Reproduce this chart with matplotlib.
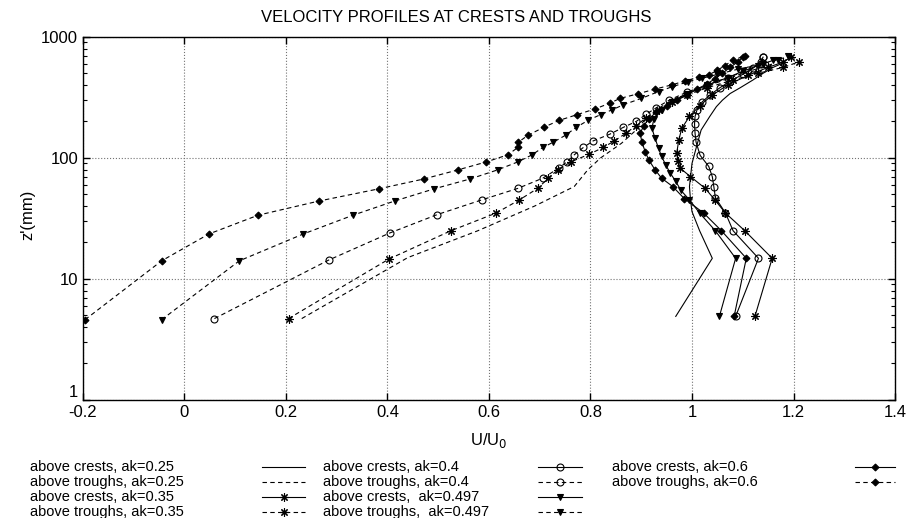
import numpy as np
import matplotlib.pyplot as plt

plt.rcParams['font.family'] = ['Liberation Sans', 'DejaVu Sans']

# velocity profiles, z' (mm) against U/U0
# above crests (solid lines)
z_c25 = [4.9, 14.8, 25, 36, 45, 58, 90, 120, 170, 220, 265, 300, 340, 380, 440, 500, 560, 610]
u_c25 = [0.968, 1.04, 1.015, 1.0, 0.997, 0.995, 1.0, 1.008, 1.018, 1.035, 1.048, 1.06, 1.075,
         1.095, 1.12, 1.14, 1.16, 1.18]

z_c35 = [4.9, 14.8, 25, 35, 45, 56, 70, 82, 95, 110, 141, 176, 220, 270, 330, 400, 480, 560, 620, 680]
u_c35 = [1.124, 1.158, 1.104, 1.066, 1.045, 1.026, 0.997, 0.977, 0.972, 0.97, 0.974, 0.98, 0.995,
         1.015, 1.04, 1.07, 1.11, 1.15, 1.18, 1.195]

z_c40 = [4.9, 14.8, 25, 35, 47, 58, 70, 85, 105, 135, 160, 190, 220, 250, 290, 330, 380, 430, 490,
         550, 620, 680]
u_c40 = [1.086, 1.131, 1.081, 1.066, 1.046, 1.043, 1.04, 1.033, 1.016, 1.008, 1.006, 1.005, 1.006,
         1.01, 1.02, 1.035, 1.055, 1.075, 1.10, 1.12, 1.135, 1.14]

z_c497 = [4.9, 14.8, 25, 35, 45, 54, 64, 75, 88, 103, 120, 146, 176, 210, 250, 290, 340, 400, 460,
          520, 580, 640]
u_c497 = [1.054, 1.086, 1.046, 1.015, 0.995, 0.978, 0.968, 0.957, 0.948, 0.94, 0.934, 0.927, 0.921,
          0.925, 0.94, 0.96, 0.99, 1.03, 1.07, 1.10, 1.13, 1.16]

z_c60 = [4.9, 14.8, 25, 35, 46, 58, 68, 80, 96, 112, 136, 160, 185, 210, 240, 270, 300, 330, 370,
         410, 450, 500, 560, 620, 680]
u_c60 = [1.083, 1.107, 1.058, 1.023, 0.985, 0.962, 0.94, 0.927, 0.915, 0.908, 0.901, 0.898, 0.905,
         0.915, 0.93, 0.95, 0.97, 0.99, 1.01, 1.03, 1.045, 1.06, 1.075, 1.09, 1.10]

# above troughs (dashed lines)
z_t25 = [4.7, 15, 25, 40, 58, 80, 100, 132, 170, 206, 250, 300, 350, 420, 500, 600]
u_t25 = [0.231, 0.44, 0.578, 0.69, 0.768, 0.795, 0.82, 0.861, 0.89, 0.907, 0.93, 0.96, 1.0, 1.05,
         1.10, 1.16]

z_t35 = [4.7, 14.6, 25, 35, 45, 56, 68, 80, 93, 107, 122, 138, 160, 185, 215, 250, 290, 330, 380,
         440, 500, 560, 620]
u_t35 = [0.205, 0.403, 0.525, 0.614, 0.66, 0.696, 0.717, 0.736, 0.762, 0.797, 0.825, 0.847, 0.87,
         0.89, 0.91, 0.935, 0.96, 0.99, 1.03, 1.08, 1.13, 1.18, 1.21]

z_t40 = [4.7, 14.3, 24, 34, 45, 56, 68, 82, 93, 106, 122, 138, 157, 179, 200, 230, 260, 300, 350,
         400, 460, 530, 600, 680]
u_t40 = [0.059, 0.284, 0.405, 0.498, 0.586, 0.657, 0.706, 0.737, 0.754, 0.768, 0.786, 0.805, 0.838,
         0.865, 0.89, 0.91, 0.93, 0.955, 0.99, 1.03, 1.07, 1.11, 1.135, 1.14]

z_t497 = [4.6, 14.1, 23.5, 33.6, 44, 55.5, 67, 79.6, 92.7, 106, 122, 135, 154, 179, 204, 228, 250,
          275, 310, 353, 386, 427, 455, 490, 540, 600, 650, 690]
u_t497 = [-0.045, 0.108, 0.234, 0.332, 0.414, 0.492, 0.563, 0.617, 0.657, 0.685, 0.706, 0.727,
          0.751, 0.772, 0.795, 0.82, 0.843, 0.865, 0.90, 0.934, 0.96, 0.993, 1.02, 1.05, 1.09,
          1.14, 1.17, 1.19]

z_t60 = [4.6, 14.1, 23.5, 33.6, 44, 55.5, 67, 79.6, 92.7, 106, 122, 135, 154, 179, 204, 228, 254,
         283, 310, 338, 370, 401, 433, 464, 485, 530, 580, 640, 700]
u_t60 = [-0.196, -0.045, 0.048, 0.145, 0.265, 0.383, 0.472, 0.539, 0.595, 0.637, 0.657, 0.658,
         0.677, 0.708, 0.738, 0.774, 0.809, 0.838, 0.858, 0.893, 0.927, 0.96, 0.987, 1.013, 1.033,
         1.05, 1.065, 1.08, 1.105]

labels = ['above crests, ak=0.25', 'above troughs, ak=0.25',
          'above crests, ak=0.35', 'above troughs, ak=0.35',
          'above crests, ak=0.4', 'above troughs, ak=0.4',
          'above crests,  ak=0.497', 'above troughs,  ak=0.497',
          'above crests, ak=0.6', 'above troughs, ak=0.6']

star = (8, 2, 0)
dash = (0, (4, 3))
series = [
    (u_c25, z_c25, '-', None, 'k', 0),
    (u_t25, z_t25, dash, None, 'k', 0),
    (u_c35, z_c35, '-', star, 'k', 6),
    (u_t35, z_t35, dash, star, 'k', 6),
    (u_c40, z_c40, '-', 'o', 'none', 5),
    (u_t40, z_t40, dash, 'o', 'none', 5),
    (u_c497, z_c497, '-', 'v', 'k', 5),
    (u_t497, z_t497, dash, 'v', 'k', 5),
    (u_c60, z_c60, '-', 'D', 'k', 3.5),
    (u_t60, z_t60, dash, 'D', 'k', 3.5),
]

fig = plt.figure(figsize=(9.09, 5.18), dpi=100)
ax = fig.add_axes([0.0913, 0.228, 0.8933, 0.7008])

for u, z, ls, mk, mfc, ms in series:
    ax.plot(u, z, color='k', linestyle=ls, linewidth=0.8, marker=mk, markersize=ms,
            markerfacecolor=mfc, markeredgecolor='k', markeredgewidth=0.8)

ax.set_yscale('log')
ax.set_xlim(-0.2, 1.4)
ax.set_ylim(1, 1000)
ax.set_xticks(np.arange(-0.2, 1.41, 0.2))
ax.set_xticklabels(['-0.2', '0', '0.2', '0.4', '0.6', '0.8', '1', '1.2', '1.4'])
ax.set_yticks([1, 10, 100, 1000])
ax.set_yticklabels(['1', '10', '100', '1000'])
ax.get_yticklabels()[0].set_va('bottom')
ax.tick_params(which='both', direction='in', top=True, right=True, labelsize=12)
ax.tick_params(which='major', length=5, width=1)
ax.tick_params(which='minor', length=3, width=0.8)
ax.tick_params(axis='x', which='minor', top=False, bottom=False)
ax.grid(True, which='major', linestyle=':', color='0.45', linewidth=0.8)
for s in ax.spines.values():
    s.set_linewidth(1.0)

fig.text(456 / 909, 1 - 18 / 518, 'VELOCITY PROFILES AT CRESTS AND TROUGHS', fontsize=12,
         ha='center', va='center')
ax.set_xlabel('U/U$_0$', fontsize=12)
ax.set_ylabel("z'(mm)", fontsize=12)
ax.xaxis.set_label_coords(0.5, -0.085)
ax.yaxis.set_label_coords(-0.059, 0.51)

# legend drawn in pixel space below the axes
lax = fig.add_axes([0, 0, 1, 1], zorder=-1)
lax.set_xlim(0, 909)
lax.set_ylim(518, 0)
lax.axis('off')
col_text = [30, 323, 612]
col_line = [(262, 305), (538, 582), (855, 895)]
row_y = [467, 482, 497, 512]
for i, (lab, (u, z, ls, mk, mfc, ms)) in enumerate(zip(labels, series)):
    c, r = divmod(i, 4)
    y = row_y[r]
    lax.text(col_text[c], y, lab, fontsize=10.5, va='center', ha='left')
    x0, x1 = col_line[c]
    lax.plot([x0, x1], [y, y], color='k', linestyle=ls, linewidth=0.8)
    if mk is not None:
        lax.plot([(x0 + x1) / 2], [y], color='k', marker=mk, markersize=ms,
                 markerfacecolor=mfc, markeredgecolor='k', markeredgewidth=0.8)

fig.savefig('out.png', dpi=100)
